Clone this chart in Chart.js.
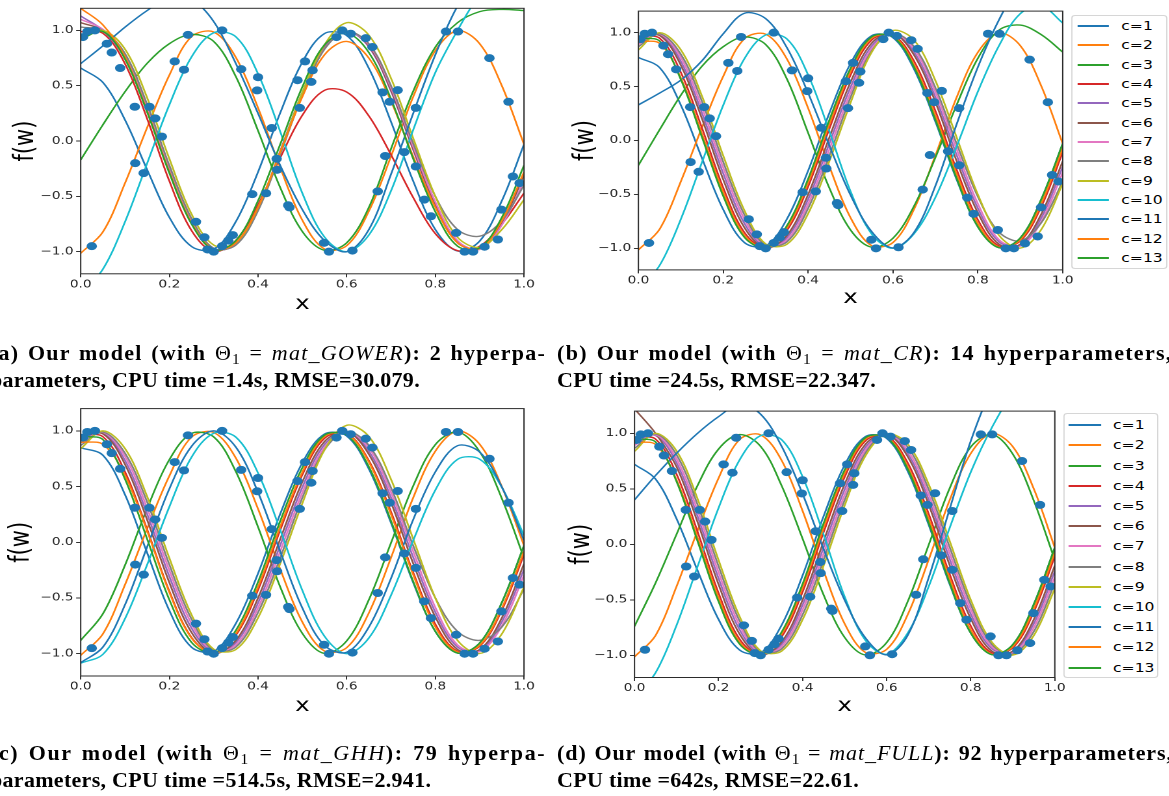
<!DOCTYPE html>
<html><head><meta charset="utf-8">
<script src="https://cdn.jsdelivr.net/npm/chart.js@4.4.1/dist/chart.umd.min.js"></script>
<style>
html,body{margin:0;padding:0;background:#fff;overflow:hidden;width:1169px;height:796px;}
#wrap{position:absolute;left:0;top:0;width:900px;height:796px;transform:scaleX(1.3);transform-origin:0 0;}
canvas{position:absolute;}
.leg{position:absolute;border:1px solid #d6d6d6;border-radius:3px;background:#fff;box-sizing:border-box;}
.row{position:absolute;left:0;height:0;width:100%;}
.row .h{position:absolute;height:2px;top:-1px;}
.row .t{position:absolute;font-family:'DejaVu Sans';font-size:12px;line-height:14px;top:-7px;color:#000;white-space:nowrap;}
.cap{position:absolute;font-family:'Liberation Serif','Times New Roman',serif;font-weight:bold;font-size:22px;line-height:27px;color:#000;white-space:nowrap;letter-spacing:0.3px;}
.cap .m{font-weight:normal;}
.cap sub{font-size:70%;vertical-align:-0.25em;line-height:0;}
</style></head><body>
<div id="wrap">
<canvas id="ca" width="420" height="320" style="left:0px;top:0px"></canvas>
<canvas id="cb" width="405" height="316" style="left:429.23px;top:0px"></canvas>
<canvas id="cc" width="420" height="320" style="left:0px;top:400px"></canvas>
<canvas id="cd" width="402" height="320" style="left:425.61px;top:400px"></canvas>
<div class="leg" id="legB" style="left:823.6px;top:14.7px;width:74.6px;height:254.3px"></div>
<div class="leg" id="legD" style="left:817.5px;top:413px;width:73.3px;height:265px"></div>
</div>

<div class="cap" data-l="-10" data-r="546" style="top:339.1px">(a) Our model (with <span class="m">Θ<sub>1</sub> = <i>mat</i>_<i>GOWER</i></span>): 2 hyperpa-</div>
<div class="cap" data-l="-10" style="top:366.1px">parameters, CPU time =1.4s, RMSE=30.079.</div>
<div class="cap" data-l="557" data-r="1173" style="top:339.1px">(b) Our model (with <span class="m">Θ<sub>1</sub> = <i>mat</i>_<i>CR</i></span>): 14 hyperparameters,</div>
<div class="cap" data-l="557" style="top:366.1px">CPU time =24.5s, RMSE=22.347.</div>
<div class="cap" data-l="-10" data-r="546" style="top:738.6px">(c) Our model (with <span class="m">Θ<sub>1</sub> = <i>mat</i>_<i>GHH</i></span>): 79 hyperpa-</div>
<div class="cap" data-l="-10" style="top:765.6px">parameters, CPU time =514.5s, RMSE=2.941.</div>
<div class="cap" data-l="557" data-r="1173" style="top:738.6px">(d) Our model (with <span class="m">Θ<sub>1</sub> = <i>mat</i>_<i>FULL</i></span>): 92 hyperparameters,</div>
<div class="cap" data-l="557" style="top:765.6px">CPU time =642s, RMSE=22.61.</div>
<script>
// ---------- data ----------
const xs = [0,0.05,0.1,0.15,0.2,0.25,0.3,0.35,0.4,0.45,0.5,0.55,0.6,0.65,0.7,0.75,0.8,0.85,0.9,0.95,1.0];
const xTickVals = [0,0.2,0.4,0.6,0.8,1.0];
const xTickLabels = ['0.0','0.2','0.4','0.6','0.8','1.0'];
const yTickVals = [-1,-0.5,0,0.5,1];
const yTickLabels = ['\u22121.0','\u22120.5','0.0','0.5','1.0'];
const seriesLabels = ['c=1','c=2','c=3','c=4','c=5','c=6','c=7','c=8','c=9','c=10','c=11','c=12','c=13'];
const seriesColors = ['#1f77b4','#ff7f0e','#2ca02c','#d62728','#9467bd','#8c564b','#e377c2','#7f7f7f','#bcbd22','#17becf','#1f77b4','#ff7f0e','#2ca02c'];

const dotsX = [0.005,0.015,0.032,0.059,0.07,0.089,0.025,0.123,0.142,0.122,0.155,0.168,0.183,0.212,0.233,0.242,0.319,0.362,0.40,0.398,0.431,0.442,0.443,0.387,0.418,0.468,0.471,0.489,0.506,0.52,0.523,0.494,0.26,0.279,0.286,0.30,0.319,0.333,0.343,0.549,0.56,0.613,0.577,0.59,0.609,0.643,0.658,0.681,0.697,0.715,0.687,0.67,0.73,0.756,0.756,0.775,0.79,0.824,0.851,0.922,0.965,0.847,0.866,0.885,0.911,0.941,0.949,0.975,0.99];
const dotsY = [0.94,0.99,1.0,0.88,0.80,0.66,-0.95,-0.20,-0.29,0.31,0.31,0.205,0.04,0.72,0.645,0.96,1.0,0.65,0.577,0.458,0.118,-0.16,-0.26,-0.48,-0.472,-0.58,-0.60,0.55,0.72,0.535,0.64,0.30,-0.73,-0.87,-0.98,-1.0,-0.95,-0.90,-0.85,-0.92,-1.0,-0.99,0.94,1.0,0.97,0.93,0.85,0.44,0.355,0.46,-0.135,-0.455,-0.1,0.30,-0.23,-0.53,-0.68,0.99,0.99,0.75,0.355,-0.83,-1.0,-1.0,-0.955,-0.89,-0.62,-0.32,-0.38];

// panel (a) mat_GOWER
const curvesA = [
[0.66,0.53,0.19,-0.26,-0.69,-0.953,-0.978,-0.728,-0.28,0.254,0.714,0.972,0.954,0.658,0.174,-0.362,-0.80,-0.994,-0.904,-0.54,-0.03],
[-1.014,-0.822,-0.38,0.123,0.596,0.944,0.986,0.756,0.30,-0.24,-0.716,-0.976,-0.946,-0.634,-0.138,0.40,0.818,0.998,0.88,0.5,-0.03],
[-0.17,0.147,0.446,0.703,0.88,0.964,0.90,0.582,0.094,-0.42,-0.818,-0.988,-0.92,-0.6,-0.07,0.45,0.85,1.07,1.17,1.19,1.18],
[0.99,0.974,0.698,0.20,-0.362,-0.809,-0.998,-0.898,-0.575,-0.152,0.234,0.459,0.443,0.227,-0.124,-0.51,-0.837,-0.991,-0.95,-0.75,-0.47],
[1.13,1.0,0.75,0.28,-0.27,-0.74,-0.98,-0.92,-0.6,-0.09,0.44,0.85,0.994,0.85,0.45,-0.08,-0.58,-0.92,-0.97,-0.73,-0.3],
[1.07,1.0,0.76,0.29,-0.26,-0.73,-0.98,-0.93,-0.61,-0.1,0.43,0.84,0.994,0.86,0.46,-0.07,-0.57,-0.91,-0.975,-0.74,-0.31],
[1.1,1.01,0.78,0.31,-0.24,-0.72,-0.975,-0.935,-0.62,-0.11,0.42,0.835,0.99,0.87,0.48,-0.05,-0.55,-0.9,-0.98,-0.76,-0.36],
[1.03,1.0,0.79,0.33,-0.22,-0.7,-0.97,-0.94,-0.63,-0.12,0.41,0.83,0.99,0.88,0.5,-0.02,-0.5,-0.8,-0.86,-0.72,-0.4],
[0.93,1.0,0.83,0.39,-0.16,-0.66,-0.94,-0.92,-0.6,-0.1,0.44,0.87,1.07,0.957,0.567,0.026,-0.5,-0.87,-0.96,-0.8,-0.53],
[-1.38,-1.158,-0.73,-0.2,0.328,0.76,0.979,0.942,0.608,0.086,-0.472,-0.868,-1.0,-0.85,-0.45,0.1,0.62,1.0,1.32,1.5,1.6],
[0.70,0.86,1.03,1.18,1.30,1.28,1.08,0.70,0.25,-0.22,-0.62,-0.90,-1.0,-0.8,-0.3,0.25,0.78,1.22,1.5,1.6,1.55],
[1.2,1.05,0.76,0.27,-0.28,-0.74,-0.98,-0.92,-0.6,-0.1,0.40,0.78,0.9,0.75,0.36,-0.14,-0.6,-0.92,-0.97,-0.72,-0.28],
[0.92,0.99,0.74,0.26,-0.29,-0.75,-0.985,-0.9,-0.54,-0.03,0.49,0.87,0.975,0.8,0.38,-0.16,-0.64,-0.95,-0.965,-0.69,-0.22]
];
// panel (b) mat_CR
const curvesB = [
[0.77,0.676,0.328,-0.166,-0.641,-0.947,-0.978,-0.728,-0.28,0.254,0.714,0.972,0.954,0.658,0.174,-0.362,-0.80,-0.994,-0.904,-0.54,-0.03],
[-1.014,-0.822,-0.38,0.123,0.596,0.944,0.986,0.756,0.30,-0.24,-0.716,-0.976,-0.946,-0.634,-0.138,0.40,0.818,0.998,0.88,0.5,-0.03],
[-0.23,0.1,0.42,0.69,0.87,0.96,0.89,0.57,0.07,-0.44,-0.83,-0.99,-0.906,-0.605,-0.158,0.33,0.762,1.024,1.07,0.98,0.82],
[0.966,0.948,0.632,0.114,-0.439,-0.854,-0.996,-0.835,-0.428,0.109,0.606,0.933,0.978,0.734,0.274,-0.27,-0.735,-0.978,-0.933,-0.609,-0.11],
[0.919,0.98,0.734,0.252,-0.307,-0.77,-0.988,-0.90,-0.545,-0.027,0.494,0.878,0.994,0.818,0.402,-0.135,-0.628,-0.94,-0.971,-0.714,-0.244],
[0.946,0.974,0.698,0.20,-0.362,-0.809,-0.998,-0.88,-0.5,0.028,0.542,0.904,0.994,0.79,0.356,-0.19,-0.67,-0.962,-0.962,-0.678,-0.192],
[0.892,0.987,0.77,0.305,-0.252,-0.73,-0.979,-0.921,-0.589,-0.082,0.446,0.852,0.994,0.847,0.448,-0.081,-0.585,-0.921,-0.98,-0.75,-0.296],
[0.87,0.99,0.80,0.36,-0.2,-0.69,-0.97,-0.94,-0.63,-0.14,0.40,0.83,0.994,0.87,0.49,-0.03,-0.52,-0.85,-0.93,-0.76,-0.38],
[0.84,1.0,0.841,0.41,-0.142,-0.65,-0.96,-0.962,-0.678,-0.192,0.35,0.82,1.02,0.93,0.555,0.03,-0.5,-0.88,-0.998,-0.822,-0.4],
[-1.38,-1.158,-0.73,-0.2,0.328,0.76,0.979,0.942,0.608,0.086,-0.472,-0.868,-1.0,-0.862,-0.527,-0.055,0.453,0.88,1.176,1.245,1.09],
[0.33,0.44,0.56,0.74,0.99,1.18,1.13,0.861,0.44,-0.047,-0.507,-0.846,-0.996,-0.85,-0.42,0.15,0.68,1.12,1.45,1.62,1.66],
[0.92,0.90,0.58,0.06,-0.48,-0.88,-0.995,-0.81,-0.39,0.15,0.64,0.95,0.97,0.70,0.23,-0.31,-0.77,-0.99,-0.92,-0.58,-0.07],
[0.95,0.922,0.566,0.028,-0.516,-0.898,-0.994,-0.79,-0.356,0.19,0.67,0.962,0.962,0.678,0.192,-0.35,-0.80,-0.994,-0.904,-0.54,-0.028]
];
// panel (c) mat_GHH
const curvesC = [
[0.85,0.782,0.427,-0.096,-0.613,-0.942,-0.978,-0.728,-0.28,0.254,0.714,0.972,0.954,0.658,0.174,-0.362,-0.80,-0.994,-0.904,-0.54,-0.03],
[-1.014,-0.822,-0.38,0.123,0.596,0.944,0.986,0.756,0.30,-0.24,-0.716,-0.976,-0.946,-0.634,-0.138,0.40,0.818,0.998,0.88,0.5,-0.03],
[-0.88,-0.642,-0.205,0.305,0.742,0.977,0.946,0.634,0.138,-0.40,-0.818,-0.998,-0.885,-0.516,-0.005,0.506,0.877,0.99,0.813,0.393,-0.142],
[0.966,0.948,0.632,0.114,-0.439,-0.854,-0.996,-0.835,-0.428,0.109,0.606,0.933,0.978,0.734,0.274,-0.27,-0.735,-0.978,-0.933,-0.609,-0.11],
[0.919,0.98,0.734,0.252,-0.307,-0.77,-0.988,-0.90,-0.545,-0.027,0.494,0.878,0.994,0.818,0.402,-0.135,-0.628,-0.94,-0.971,-0.714,-0.244],
[0.946,0.974,0.698,0.20,-0.362,-0.809,-0.998,-0.88,-0.5,0.028,0.542,0.904,0.994,0.79,0.356,-0.19,-0.67,-0.962,-0.962,-0.678,-0.192],
[0.892,0.987,0.77,0.305,-0.252,-0.73,-0.979,-0.921,-0.589,-0.082,0.446,0.852,0.994,0.847,0.448,-0.081,-0.585,-0.921,-0.98,-0.75,-0.296],
[0.87,0.99,0.80,0.36,-0.2,-0.69,-0.97,-0.94,-0.63,-0.14,0.40,0.83,0.994,0.87,0.49,-0.03,-0.5,-0.8,-0.88,-0.76,-0.42],
[0.84,1.0,0.841,0.41,-0.142,-0.65,-0.96,-0.962,-0.678,-0.192,0.35,0.83,1.05,0.95,0.565,0.03,-0.5,-0.88,-0.998,-0.822,-0.4],
[-1.085,-1.006,-0.685,-0.20,0.319,0.764,0.979,0.944,0.622,0.112,-0.432,-0.844,-1.0,-0.859,-0.475,0.016,0.469,0.744,0.746,0.493,0.061],
[-1.08,-0.941,-0.56,-0.04,0.48,0.861,1.0,0.854,0.448,-0.082,-0.59,-0.926,-0.987,-0.761,-0.323,0.203,0.632,0.867,0.81,0.496,0.017],
[0.90,0.88,0.6,0.1,-0.45,-0.86,-0.995,-0.82,-0.40,0.14,0.63,0.95,0.975,0.72,0.25,-0.29,-0.76,-0.985,-0.925,-0.59,-0.08],
[0.95,0.922,0.566,0.028,-0.516,-0.898,-0.994,-0.79,-0.356,0.19,0.67,0.962,0.962,0.678,0.192,-0.35,-0.80,-0.994,-0.904,-0.54,-0.028]
];
// panel (d) mat_FULL
const curvesD = [
[0.72,0.588,0.23,-0.236,-0.677,-0.952,-0.978,-0.728,-0.28,0.254,0.714,0.972,0.954,0.658,0.174,-0.362,-0.80,-0.994,-0.904,-0.54,-0.03],
[-1.014,-0.822,-0.38,0.123,0.596,0.944,0.986,0.756,0.30,-0.24,-0.716,-0.976,-0.946,-0.634,-0.138,0.40,0.818,0.998,0.88,0.5,-0.03],
[-0.739,-0.349,0.09,0.53,0.858,0.988,0.882,0.528,0.049,-0.457,-0.839,-0.998,-0.885,-0.516,-0.005,0.506,0.877,0.99,0.813,0.393,-0.142],
[0.966,0.948,0.632,0.114,-0.439,-0.854,-0.996,-0.835,-0.428,0.109,0.606,0.933,0.978,0.734,0.274,-0.27,-0.735,-0.978,-0.933,-0.609,-0.11],
[0.919,0.98,0.734,0.252,-0.307,-0.77,-0.988,-0.90,-0.545,-0.027,0.494,0.878,0.994,0.818,0.402,-0.135,-0.628,-0.94,-0.971,-0.714,-0.244],
[1.22,1.0,0.698,0.20,-0.362,-0.809,-0.998,-0.88,-0.5,0.028,0.542,0.904,0.994,0.79,0.356,-0.19,-0.67,-0.962,-0.962,-0.678,-0.192],
[0.892,0.987,0.77,0.305,-0.252,-0.73,-0.979,-0.921,-0.589,-0.082,0.446,0.852,0.994,0.847,0.448,-0.081,-0.585,-0.921,-0.98,-0.75,-0.296],
[0.865,0.994,0.806,0.358,-0.197,-0.69,-0.97,-0.942,-0.634,-0.137,0.398,0.826,0.994,0.876,0.494,-0.027,-0.543,-0.9,-0.989,-0.786,-0.348],
[0.838,1.0,0.841,0.41,-0.142,-0.65,-0.96,-0.962,-0.678,-0.192,0.35,0.80,0.994,0.904,0.54,0.028,-0.5,-0.88,-0.998,-0.822,-0.4],
[-1.38,-1.158,-0.73,-0.2,0.328,0.76,0.979,0.942,0.608,0.086,-0.472,-0.868,-0.99,-0.8,-0.38,0.15,0.65,1.05,1.35,1.5,1.55],
[0.40,0.62,0.82,1.0,1.15,1.26,1.172,0.883,0.453,-0.044,-0.503,-0.846,-0.996,-0.82,-0.3,0.32,0.93,1.4,1.7,1.85,1.9],
[0.92,0.90,0.58,0.06,-0.48,-0.88,-0.995,-0.81,-0.39,0.15,0.64,0.95,0.97,0.70,0.23,-0.31,-0.77,-0.99,-0.92,-0.58,-0.07],
[0.95,0.922,0.566,0.028,-0.516,-0.898,-0.994,-0.79,-0.356,0.19,0.67,0.962,0.962,0.678,0.192,-0.35,-0.80,-0.994,-0.904,-0.54,-0.028]
];

// ---------- rendering ----------
const framePlugin = {
  id: 'frame',
  afterDraw(chart) {
    const {ctx, chartArea: a} = chart;
    ctx.save();
    ctx.strokeStyle = '#2b2b2b';
    ctx.lineWidth = 1;
    ctx.strokeRect(a.left, a.top, a.right - a.left, a.bottom - a.top);
    ctx.restore();
  }
};

function buildChart(id, curves, L) {
  const datasets = curves.map((vals, i) => ({
    type: 'line',
    label: seriesLabels[i],
    data: vals.map((v, j) => ({x: xs[j], y: v})),
    borderColor: seriesColors[i],
    backgroundColor: seriesColors[i],
    borderWidth: 1.4,
    pointRadius: 0,
    pointHoverRadius: 0,
    tension: 0.35,
    fill: false,
    clip: 0,
    order: 20 - i
  }));
  datasets.push({
    type: 'scatter',
    label: 'data',
    data: dotsX.map((x, k) => ({x: x, y: dotsY[k]})),
    backgroundColor: '#1f77b4',
    borderColor: '#1f77b4',
    borderWidth: 0,
    pointRadius: 4,
    clip: 0,
    order: 0
  });
  const tickFont = {family: 'DejaVu Sans', size: 10.5};
  return new Chart(document.getElementById(id), {
    type: 'line',
    data: {datasets},
    options: {
      responsive: false,
      animation: false,
      devicePixelRatio: 2,
      events: [],
      layout: {padding: {left: 0, top: L.padTop, right: L.padRight, bottom: 0}},
      elements: {line: {capBezierPoints: false}},
      plugins: {legend: {display: false}, tooltip: {enabled: false}},
      scales: {
        x: {
          type: 'linear', position: 'bottom', min: 0, max: 1,
          afterFit: s => { s.height = L.hx; },
          afterBuildTicks: s => { s.ticks = xTickVals.map(v => ({value: v})); },
          ticks: {autoSkip: false, maxRotation: 0, minRotation: 0, padding: 1, color: '#222', font: tickFont,
                  callback: (v, i) => xTickLabels[i]},
          grid: {drawOnChartArea: false, drawTicks: true, tickLength: 3.5, color: '#333', tickColor: '#333'},
          border: {display: false},
          title: {display: true, text: 'x', color: '#000', font: {family: 'DejaVu Sans', size: 19}, padding: {top: 0, bottom: L.xTitlePad}}
        },
        y: {
          type: 'linear', position: 'left', min: -1.2, max: 1.2,
          afterFit: s => { s.width = L.wy; },
          afterBuildTicks: s => { s.ticks = yTickVals.map(v => ({value: v})); },
          ticks: {autoSkip: false, padding: 2, color: '#222', font: tickFont,
                  callback: (v, i) => yTickLabels[i]},
          grid: {drawOnChartArea: false, drawTicks: true, tickLength: 3.5, color: '#333', tickColor: '#333'},
          border: {display: false},
          title: {display: true, text: 'f(w)', color: '#000', font: {family: 'DejaVu Sans', size: 21}, padding: {top: L.yTitlePad, bottom: 0}}
        }
      }
    },
    plugins: [framePlugin]
  });
}

buildChart('ca', curvesA, {wy: 62.08, padTop: 8.2, padRight: 16.92, hx: 46.2, yTitlePad: 7.2, xTitlePad: 4.4});
buildChart('cb', curvesB, {wy: 62.08, padTop: 11.1, padRight: 16.54, hx: 46.1, yTitlePad: 8.95, xTitlePad: 6.4});
buildChart('cc', curvesC, {wy: 62.08, padTop: 8.6, padRight: 16.92, hx: 44.0, yTitlePad: 4.1, xTitlePad: 2.4});
buildChart('cd', curvesD, {wy: 62.08, padTop: 11.1, padRight: 16.61, hx: 42.5, yTitlePad: 9.0, xTitlePad: 2.4});

function buildLegend(id, L) {
  const box = document.getElementById(id);
  seriesLabels.forEach((lab, i) => {
    const r = document.createElement('div');
    r.className = 'row';
    r.style.top = (L.row0 + i * L.step) + 'px';
    const h = document.createElement('div');
    h.className = 'h';
    h.style.left = L.hl + 'px';
    h.style.width = L.hw + 'px';
    h.style.background = seriesColors[i];
    const t = document.createElement('div');
    t.className = 't';
    t.style.left = L.tx + 'px';
    t.textContent = lab;
    r.appendChild(h); r.appendChild(t);
    box.appendChild(r);
  });
}
buildLegend('legB', {row0: 10.3, step: 19.33, hl: 4.1, hw: 24.6, tx: 37.9});
buildLegend('legD', {row0: 11.2, step: 20.2, hl: 3.8, hw: 24.9, tx: 37.7});

// captions (page coordinates); first lines stretched to the column edge, mostly by letter spacing
document.querySelectorAll('.cap').forEach(el => {
  const l = parseFloat(el.dataset.l);
  el.style.left = l + 'px';
  if (el.dataset.r) {
    const target = parseFloat(el.dataset.r) - l;
    const natural = el.offsetWidth;
    const txt = el.textContent;
    const spaces = (txt.match(/ /g) || []).length;
    const chars = txt.length;
    const extra = target - natural;
    const ws = Math.max(0, Math.min(3, extra * 0.25 / spaces));
    const ls = 0.3 + (extra - ws * spaces) / chars;
    el.style.wordSpacing = ws + 'px';
    el.style.letterSpacing = ls + 'px';
  }
});
</script>
</body></html>
